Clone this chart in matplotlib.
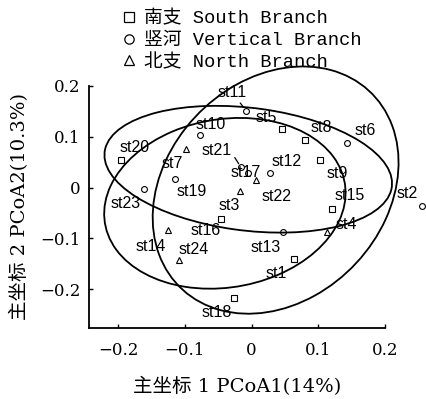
import matplotlib
matplotlib.use('Agg')
import matplotlib.pyplot as plt
from matplotlib.patches import Ellipse
from matplotlib.lines import Line2D

# South Branch (squares)
south_names = ['st20', 'st5', 'st8', 'st9', 'st15', 'st1', 'st18', 'st16']
south_x = [-0.196, 0.046, 0.080, 0.103, 0.121, 0.064, -0.027, -0.046]
south_y = [0.055, 0.115, 0.094, 0.055, -0.042, -0.141, -0.218, -0.062]

# Vertical Branch (circles)
vert_names = ['st11', 'st10', 'st19', 'st23', 'st21', 'st17', 'st12', 'st13', 'st6', 'st2']
vert_x = [-0.008, -0.077, -0.115, -0.161, -0.016, -0.006, 0.028, 0.047, 0.143, 0.255]
vert_y = [0.151, 0.103, 0.017, -0.003, 0.040, 0.029, 0.029, -0.088, 0.088, -0.037]

# North Branch (triangles)
north_names = ['st7', 'st22', 'st3', 'st4', 'st14', 'st24']
north_x = [-0.098, 0.007, -0.018, 0.113, -0.125, -0.109]
north_y = [0.076, 0.015, -0.006, -0.088, -0.084, -0.142]

# confidence ellipses: centre, width, height, angle (data units)
ell_x = [-0.005, -0.040, 0.036]
ell_y = [0.036, -0.031, -0.005]
ell_w = [0.436, 0.373, 0.500]
ell_h = [0.240, 0.323, 0.349]
ell_angle = [-10.6, 29.3, 70.8]

legend_labels = ['南支 South Branch', '竖河 Vertical Branch', '北支 North Branch']

# label offsets from the marker, in pixels (right, down)
label_off = {
    'st20': (14, -12), 'st5': (-16, -12), 'st8': (16, -12), 'st9': (17, 14),
    'st15': (17, -13), 'st1': (-18, 14), 'st18': (-17, 14), 'st16': (-15, 11),
    'st11': (-14, -18), 'st10': (11, -11), 'st19': (17, 13), 'st23': (-18, 14),
    'st21': (-24, -17), 'st17': (-2, 0), 'st12': (16, -11), 'st13': (-17, 15),
    'st6': (18, -12), 'st2': (-15, -13), 'st7': (-14, 15), 'st22': (20, 17),
    'st3': (-10, 15), 'st4': (19, -8), 'st14': (-17, 16), 'st24': (15, -10),
}
leaders = ['st11', 'st21']

serif = ['DejaVu Serif', 'Noto Sans CJK SC']
mono = ['Liberation Mono', 'Noto Sans CJK SC']

fig = plt.figure(figsize=(4.26, 3.99), dpi=100)
ax = fig.add_axes([0.209, 0.178, 0.695, 0.607])

for cx, cy, w, h, a in zip(ell_x, ell_y, ell_w, ell_h, ell_angle):
    ax.add_patch(Ellipse((cx, cy), w, h, angle=a, fill=False, ec='k', lw=1.3, clip_on=False))

ax.plot(south_x, south_y, 's', ms=4.5, mfc='white', mec='k', mew=0.8, clip_on=False)
ax.plot(vert_x, vert_y, 'o', ms=4.2, mfc='none', mec='k', mew=0.8, clip_on=False)
ax.plot(north_x, north_y, '^', ms=5, mfc='white', mec='k', mew=0.8, clip_on=False)

names = south_names + vert_names + north_names
xs = south_x + vert_x + north_x
ys = south_y + vert_y + north_y
for n, x, y in zip(names, xs, ys):
    dx, dy = label_off[n]
    kw = {}
    if n in leaders:
        kw['arrowprops'] = dict(arrowstyle='-', lw=0.9, color='k', shrinkA=0, shrinkB=3,
                                relpos=(1.0, 0.3) if n == 'st21' else (0.7, 0.0))
    ax.annotate(n, (x, y), xytext=(dx * 0.72, -dy * 0.72), textcoords='offset points',
                ha='center', va='center', fontsize=11.5, family='Liberation Sans',
                annotation_clip=False, **kw)

ax.set_xlim(-0.2435, 0.2)
ax.set_ylim(-0.276, 0.2)
ax.set_xticks([-0.2, -0.1, 0, 0.1, 0.2])
ax.set_xticklabels(['\u22120.2', '\u22120.1', '0', '0.1', '0.2'])
ax.set_yticks([-0.2, -0.1, 0, 0.1, 0.2])
ax.set_yticklabels(['\u22120.2', '\u22120.1', '0', '0.1', '0.2'])
ax.tick_params(direction='in', length=3, width=1, labelsize=12)
ax.tick_params(axis='x', pad=10)
ax.tick_params(axis='y', pad=6)
for lab in ax.get_xticklabels() + ax.get_yticklabels():
    lab.set_family(serif)
for s in ['top', 'right']:
    ax.spines[s].set_visible(False)
for s in ['left', 'bottom']:
    ax.spines[s].set_linewidth(1.3)

ax.set_xlabel('主坐标 1 PCoA1(14%)', family=serif, fontsize=14, labelpad=13)
ax.set_ylabel('主坐标 2 PCoA2(10.3%)', family=serif, fontsize=14, labelpad=8)

handles = [
    Line2D([], [], marker='s', ls='none', ms=7.5, mfc='none', mec='k', mew=0.9),
    Line2D([], [], marker='o', ls='none', ms=6.7, mfc='none', mec='k', mew=0.9),
    Line2D([], [], marker='^', ls='none', ms=7.5, mfc='none', mec='k', mew=0.9),
]
fig.legend(handles, legend_labels, loc='center', bbox_to_anchor=(0.568, 0.898),
           frameon=False, prop={'family': mono, 'size': 13.5},
           handlelength=0.8, handletextpad=0.4, labelspacing=0.23, borderpad=0)

fig.savefig('out.png', dpi=100)
